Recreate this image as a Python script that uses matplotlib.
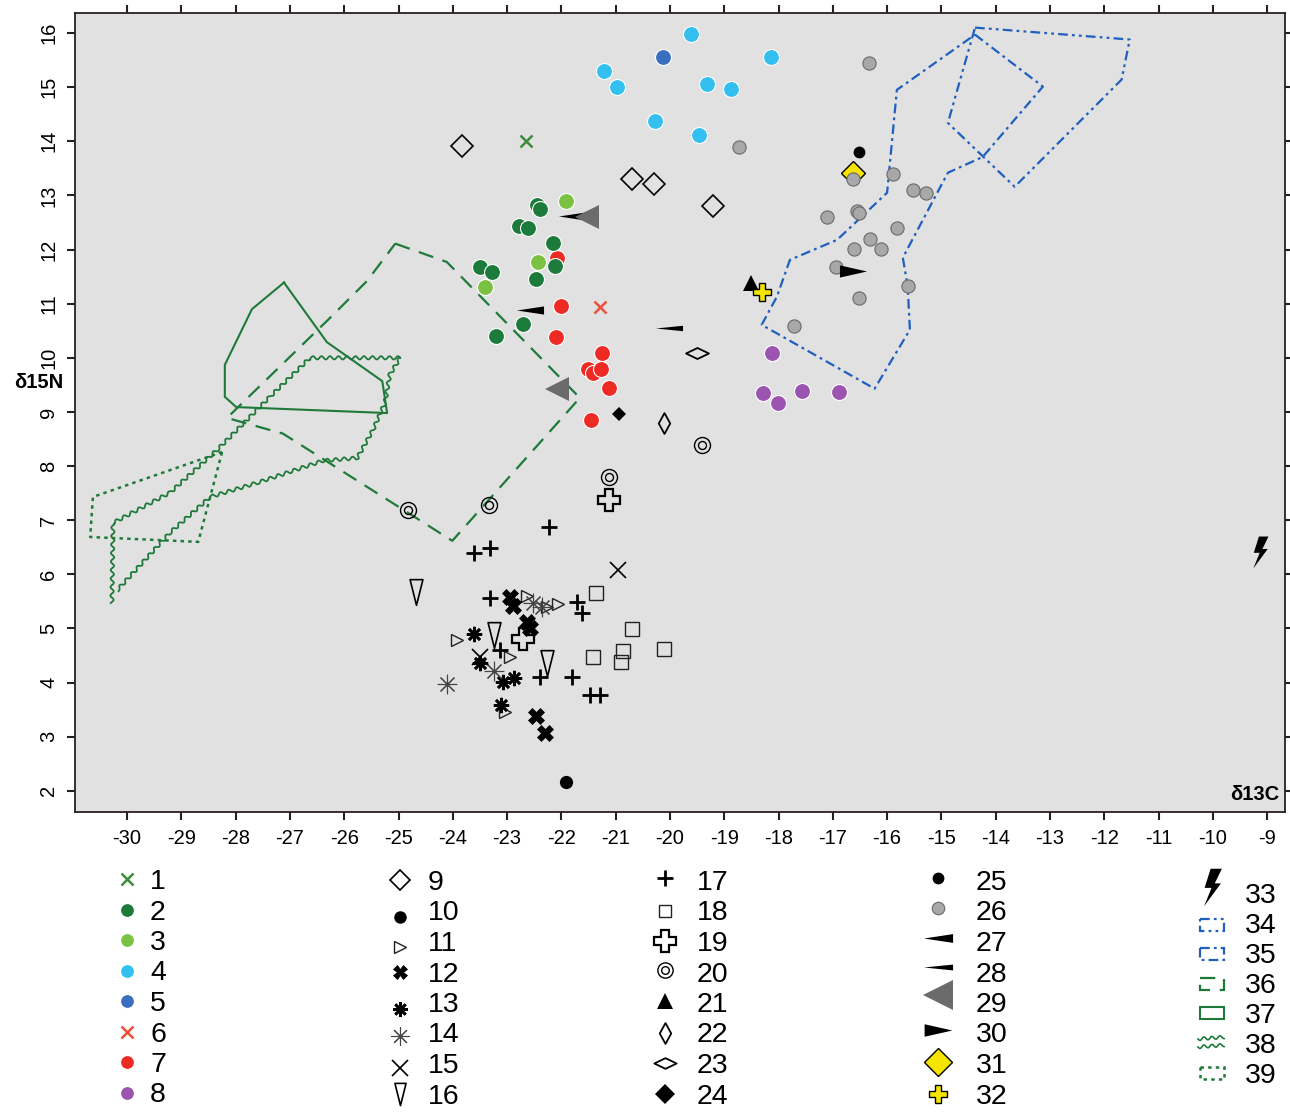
import numpy as np
import matplotlib
matplotlib.use("Agg")
import matplotlib.pyplot as plt
from matplotlib.path import Path
from matplotlib.patches import Rectangle
from matplotlib import font_manager as fm

# ---------------- data (d13C = x, d15N = y) ----------------
g01_x = [-22.65]; g01_y = [14.00]
g02_x = [-22.45, -22.39, -22.78, -22.61, -22.15, -22.12, -22.47, -23.50, -23.28, -22.71, -23.20]
g02_y = [12.83, 12.75, 12.44, 12.40, 12.12, 11.70, 11.46, 11.68, 11.59, 10.63, 10.40]
g03_x = [-21.92, -22.43, -23.41]; g03_y = [12.90, 11.77, 11.31]
g04_x = [-19.61, -21.22, -20.98, -19.32, -18.88, -18.14, -20.28, -19.47]
g04_y = [15.99, 15.30, 15.01, 15.06, 14.97, 15.56, 14.38, 14.12]
g05_x = [-20.13]; g05_y = [15.56]
g06_x = [-21.28]; g06_y = [10.94]
g07_x = [-22.08, -22.01, -22.10, -21.25, -21.51, -21.42, -21.27, -21.12, -21.45]
g07_y = [11.85, 10.96, 10.39, 10.09, 9.80, 9.72, 9.80, 9.45, 8.86]
g08_x = [-18.12, -18.29, -18.01, -17.57, -16.89]
g08_y = [10.09, 9.35, 9.17, 9.39, 9.37]
g09_x = [-23.83, -20.70, -20.29, -19.21]; g09_y = [13.92, 13.31, 13.21, 12.81]
g10_x = [-21.92]; g10_y = [2.17]
g11_x = [-22.63, -22.27, -22.06, -23.92, -22.95, -23.04]
g11_y = [5.60, 5.40, 5.46, 4.79, 4.48, 3.46]
g12_x = [-22.95, -22.89, -22.63, -22.58, -22.47, -22.30]
g12_y = [5.58, 5.41, 5.12, 5.01, 3.38, 3.07]
g13_x = [-23.61, -23.50, -23.08, -22.87, -23.11]
g13_y = [4.89, 4.36, 4.01, 4.08, 3.58]
g14_x = [-24.11, -23.24, -22.52, -22.36]
g14_y = [3.98, 4.21, 5.47, 5.40]
g15_x = [-20.96, -23.50]; g15_y = [6.08, 4.48]
g16_x = [-24.68, -23.24, -22.27]; g16_y = [5.67, 4.88, 4.36]
g17_x = [-22.23, -23.61, -23.31, -23.31, -21.71, -21.62, -23.13, -22.39, -21.80, -21.47, -21.29]
g17_y = [6.88, 6.40, 6.49, 5.56, 5.49, 5.29, 4.60, 4.10, 4.10, 3.77, 3.77]
g18_x = [-21.36, -20.70, -21.42, -20.87, -20.90, -20.11]
g18_y = [5.66, 4.99, 4.47, 4.58, 4.38, 4.63]
g19_x = [-21.12, -22.71]; g19_y = [7.37, 4.80]
g20_x = [-24.83, -23.33, -21.12, -19.41]; g20_y = [7.19, 7.28, 7.80, 8.39]
g21_x = [-18.51]; g21_y = [11.39]
g22_x = [-20.11]; g22_y = [8.80]
g23_x = [-19.50]; g23_y = [10.09]
g24_x = [-20.94]; g24_y = [8.97]
g25_x = [-16.52]; g25_y = [13.80]
g26_x = [-16.34, -18.73, -16.63, -15.89, -15.53, -15.29, -16.56, -16.52, -17.11,
         -15.82, -16.32, -16.61, -16.11, -16.94, -15.62, -16.52, -17.72]
g26_y = [15.45, 13.90, 13.31, 13.40, 13.10, 13.05, 12.72, 12.68, 12.60,
         12.40, 12.20, 12.01, 12.01, 11.68, 11.33, 11.11, 10.59]
g27_x = [-22.58, -21.80]; g27_y = [10.89, 12.62]
g28_x = [-20.02]; g28_y = [10.55]
g29_x = [-21.53, -22.08]; g29_y = [12.60, 9.42]
g30_x = [-16.63]; g30_y = [11.60]
g31_x = [-16.63]; g31_y = [13.42]
g32_x = [-18.31]; g32_y = [11.21]
g33_x = [-9.13]; g33_y = [6.41]

# polygon outlines (groups 34-39)
p34_x = [-14.38, -11.53, -11.68, -13.65, -14.88, -14.38]
p34_y = [16.10, 15.88, 15.14, 13.16, 14.34, 16.10]
p35_x = [-14.38, -13.13, -14.24, -14.88, -15.71, -15.62, -15.58, -16.23, -18.31, -18.03,
         -17.79, -16.92, -16.00, -15.82, -14.38]
p35_y = [15.97, 15.01, 13.71, 13.42, 11.85, 11.31, 10.52, 9.43, 10.61, 11.13,
         11.81, 12.18, 13.05, 14.95, 15.97]
p36_x = [-25.06, -24.11, -21.66, -24.01, -27.13, -28.16, -26.26, -25.58, -25.06]
p36_y = [12.11, 11.77, 9.26, 6.62, 8.60, 8.89, 10.74, 11.42, 12.11]
p37_x = [-27.11, -27.70, -28.20, -28.20, -27.99, -25.21, -25.30, -26.32, -27.11]
p37_y = [11.39, 10.90, 9.87, 9.28, 9.09, 8.98, 9.57, 10.29, 11.39]
p38a_x = [-24.97, -26.63, -27.37, -28.34, -29.21, -30.26, -30.28]
p38a_y = [10.00, 10.00, 9.28, 8.30, 7.51, 6.95, 5.47]
p38b_x = [-24.97, -25.16, -25.25, -25.47, -25.76, -26.39, -27.61, -28.47, -29.21, -30.18]
p38b_y = [10.00, 9.69, 9.17, 8.67, 8.15, 8.10, 7.69, 7.43, 6.77, 5.71]
p39_x = [-28.25, -30.63, -30.68, -28.69, -28.25]
p39_y = [8.26, 7.43, 6.69, 6.60, 8.26]

x_ticks = list(range(-30, -8))
y_ticks = list(range(2, 17))
legend_labels = [str(i) for i in range(1, 40)]

# ---------------- styles ----------------
plt.rcParams['font.family'] = ['Liberation Sans', 'DejaVu Sans']
plt.rcParams['lines.scale_dashes'] = False
names = {f.name for f in fm.fontManager.ttflist}
NARROW = 'Liberation Sans Narrow' if 'Liberation Sans Narrow' in names else 'Liberation Sans'

def poly_marker(pts):
    return Path(pts + [pts[0]], closed=True)

wedge_l = poly_marker([(-1, 0), (1, 0.30), (1, -0.30)])
wedge_l_thin = poly_marker([(-1, 0), (1, 0.20), (1, -0.20)])
wedge_r = poly_marker([(1, 0), (-1, 0.45), (-1, -0.45)])
tri_down = poly_marker([(-0.5, 1), (0.5, 1), (0, -1)])
dia_tall = poly_marker([(0, 1), (0.55, 0), (0, -1), (-0.55, 0)])
dia_flat = poly_marker([(1, 0), (0, 0.48), (-1, 0), (0, -0.48)])
bolt = poly_marker([(-0.1, 1.0), (0.5, 1.0), (0.12, 0.22), (0.45, 0.22),
                    (-0.45, -1.0), (-0.05, -0.02), (-0.42, -0.02)])
c_out = Path.unit_circle()
c_in = Path(Path.unit_circle().vertices * 0.5, Path.unit_circle().codes)
dbl_circle = Path.make_compound_path(c_out, c_in)

DG, LG, LB, BL, RX, RD, PU = '#1c7a3b', '#7cc242', '#33c0f0', '#3a6fc0', '#f04e3a', '#ee2a24', '#9b55b0'

def circ(c, ms=11.5):
    return dict(marker='o', ms=ms, mfc=c, mec='white', mew=0.8)

S = {
    1: dict(marker='x', ms=8, mew=1.8, mec='#3d8b3d'),
    2: circ(DG), 3: circ(LG), 4: circ(LB), 5: circ(BL),
    6: dict(marker='x', ms=8, mew=1.8, mec=RX),
    7: circ(RD), 8: circ(PU),
    9: dict(marker='D', ms=11, mfc='none', mec='black', mew=1.2),
    10: dict(marker='o', ms=9.5, mfc='black', mec='black', mew=0),
    11: dict(marker='>', ms=8.5, mfc='none', mec='#222222', mew=1.0),
    12: dict(marker='X', ms=11, mfc='black', mec='black', mew=0.5),
    13: dict(marker=(8, 2, 0), ms=11, mec='black', mew=1.9),
    14: dict(marker=(8, 2, 0), ms=14, mec='#444444', mew=0.8),
    15: dict(marker='x', ms=11, mec='black', mew=1.2),
    16: dict(marker=tri_down, ms=18.5, mfc='none', mec='black', mew=1.2),
    17: dict(marker='+', ms=12, mec='black', mew=2.0),
    18: dict(marker='s', ms=9.5, mfc='none', mec='#222222', mew=1.0),
    19: dict(marker='P', ms=16, mfc='none', mec='black', mew=1.6),
    20: dict(marker=dbl_circle, ms=11.5, mfc='none', mec='black', mew=1.0),
    21: dict(marker='^', ms=11, mfc='black', mec='black', mew=0),
    22: dict(marker=dia_tall, ms=15, mfc='none', mec='black', mew=1.3),
    23: dict(marker=dia_flat, ms=16.5, mfc='none', mec='black', mew=1.3),
    24: dict(marker='D', ms=7.5, mfc='black', mec='black', mew=0),
    25: dict(marker='o', ms=8.5, mfc='black', mec='black', mew=0),
    26: dict(marker='o', ms=9.5, mfc='#a8a8a8', mec='#6a6a6a', mew=0.8),
    27: dict(marker=wedge_l, ms=19.5, mfc='black', mec='black', mew=0),
    28: dict(marker=wedge_l_thin, ms=19.5, mfc='black', mec='black', mew=0),
    29: dict(marker='<', ms=17, mfc='#6b6b6b', mec='#6b6b6b', mew=0),
    30: dict(marker=wedge_r, ms=19.5, mfc='black', mec='black', mew=0),
    31: dict(marker='D', ms=12, mfc='#f4e400', mec='black', mew=1.0),
    32: dict(marker='P', ms=13, mfc='#f4e400', mec='black', mew=1.0),
    33: dict(marker=bolt, ms=23, mfc='black', mec='black', mew=0),
}

GREEN_LINE = '#1f7a3a'
BLUE_LINE = '#1f5fbf'
LS = {
    34: dict(color=BLUE_LINE, lw=1.6, ls=(0, (7, 3, 2, 3, 2, 3))),
    35: dict(color=BLUE_LINE, lw=1.6, ls=(0, (7, 3, 2, 3))),
    36: dict(color=GREEN_LINE, lw=1.6, ls=(0, (11, 7))),
    37: dict(color=GREEN_LINE, lw=1.5, ls='-'),
    38: dict(color=GREEN_LINE, lw=1.3, ls='-'),
    39: dict(color=GREEN_LINE, lw=1.8, ls=(0, (2.5, 3))),
}

points = {i: (globals()['g%02d_x' % i], globals()['g%02d_y' % i]) for i in range(1, 34)}

# ---------------- figure ----------------
W, H = 1290, 1113
fig = plt.figure(figsize=(W / 100, H / 100), dpi=100)
ax = fig.add_axes([75 / W, 1 - 812 / H, (1285 - 75) / W, (812 - 13) / H])
ax.set_zorder(2)
ax.set_facecolor('#e1e1e1')
ax.set_xlim(-30.96, -8.67)
ax.set_ylim(1.61, 16.37)

# polygons
ax.plot(p34_x, p34_y, **LS[34])
ax.plot(p35_x, p35_y, **LS[35])
ax.plot(p36_x, p36_y, **LS[36])
ax.plot(p37_x, p37_y, **LS[37])
for xs, ys in [(p38a_x, p38a_y), (p38b_x, p38b_y)]:
    ln, = ax.plot(xs, ys, **LS[38])
    ln.set_sketch_params(1.7, 8.5, 1.0)
ax.plot(p39_x, p39_y, **LS[39])

order = [1, 7, 2, 3, 4, 5, 6, 8, 9, 10, 11, 12, 13, 14, 15, 16, 17, 18, 19, 20,
         21, 22, 23, 24, 25, 31, 26, 27, 28, 29, 30, 32, 33]
for g in order:
    xs, ys = points[g]
    ax.plot(xs, ys, ls='none', **S[g])

ax.set_xticks(x_ticks, labels=[str(v) for v in x_ticks], fontfamily=NARROW, fontsize=14.5)
ax.set_yticks(y_ticks, labels=[str(v) for v in y_ticks], fontfamily=NARROW, fontsize=14.5,
              rotation=90, va='center')
ax.tick_params(direction='out', length=6, width=1.5, color='#222222', top=True, right=True,
               labeltop=False, labelright=False, pad=6)
for sp in ax.spines.values():
    sp.set_linewidth(1.3)
    sp.set_color('#2a2020')

ax.text(0.9955, 0.022, 'δ13C', transform=ax.transAxes, ha='right', va='center',
        fontsize=14.5, fontweight='bold')
fig.text(63 / W, 1 - 383 / H, 'δ15N', ha='right', va='center', fontsize=14.5, fontweight='bold')

# ---------------- legend ----------------
lax = fig.add_axes([0, 0, 1, 1])
lax.set_zorder(1)
lax.set_xlim(0, W)
lax.set_ylim(H, 0)
lax.axis('off')

leg_ms = {1: 8, 2: 10, 3: 10, 4: 10, 5: 10, 6: 8, 7: 10, 8: 10, 9: 10.5, 10: 9, 11: 8,
          12: 10, 13: 10.5, 14: 13, 15: 12, 16: 16, 17: 12, 18: 9, 19: 16, 20: 11, 21: 11,
          22: 15, 23: 16, 24: 10, 25: 8.5, 26: 9, 27: 21, 28: 21, 29: 22, 30: 20, 31: 14,
          32: 13, 33: 27}
# (marker x, text x, groups, first row y, row step, marker y offsets)
cols = [
    (127, 150, list(range(1, 9)), 879, 30.5, [0, 0, 0, 0, 0, 0, 0, 0]),
    (400, 428, list(range(9, 17)), 880, 30.5, [0, 6, 6, 0, 7, 3, 5, 0]),
    (665, 697, list(range(17, 25)), 880, 30.5, [-2, 0, 0, -2, -1, 0, 0, 0]),
    (938, 976, list(range(25, 33)), 880, 30.5, [-2, -3, -3, -5, -7, -3, -1, 0]),
    (1212, 1245, list(range(33, 40)), 893, 30.0, [-6, 2, 1, 1, 0, 0, 0]),
]
for mx, tx, groups, y0, dy, offs in cols:
    for i, (g, off) in enumerate(zip(groups, offs)):
        ty = y0 + i * dy
        my = ty + off
        lax.text(tx, ty + 10, legend_labels[g - 1], ha='left', va='baseline',
                 fontsize=20.5, fontfamily=NARROW)
        if g <= 33:
            st = dict(S[g]); st['ms'] = leg_ms[g]
            lax.plot([mx], [my], ls='none', **st)
        elif g == 38:
            for d in (-4, 4):
                ln, = lax.plot([mx - 14, mx + 12], [my + d, my + d - 2], color=GREEN_LINE, lw=1.2)
                ln.set_sketch_params(1.6, 8, 1.0)
        else:
            st = LS[g]
            lax.add_patch(Rectangle((mx - 12, my - 6), 24, 12, fill=False, edgecolor=st['color'],
                                    lw=st['lw'], ls=st['ls']))

fig.savefig('out.png', dpi=100, facecolor='white')
